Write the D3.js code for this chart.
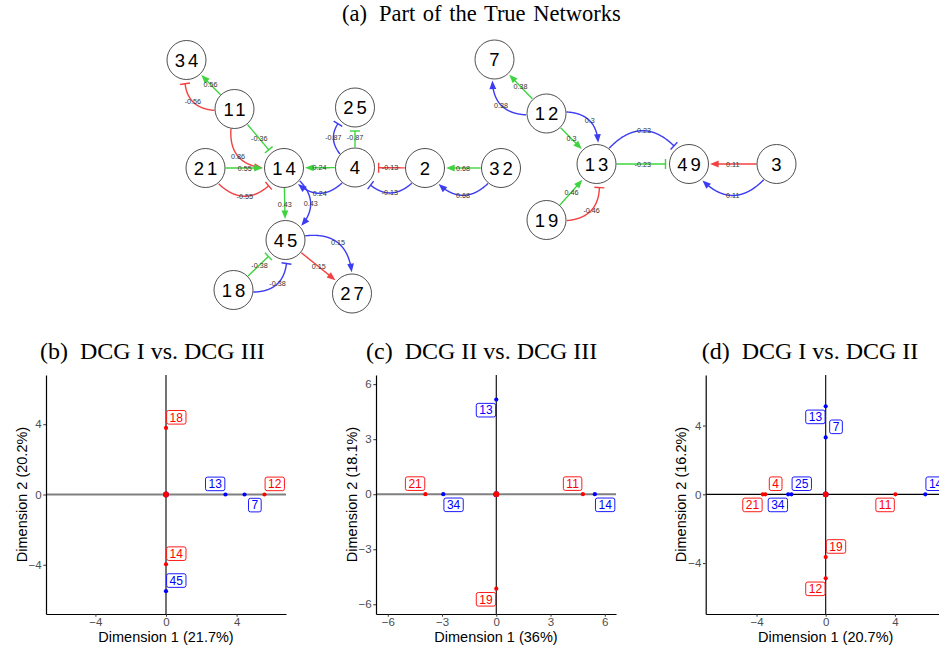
<!DOCTYPE html>
<html>
<head>
<meta charset="utf-8">
<script src="https://cdn.jsdelivr.net/npm/d3@7"></script>
<style>
  body { margin: 0; background: #fff; }
  svg { display: block; }
</style>
</head>
<body>
<svg id="fig" width="939" height="647"></svg>
<script>
// ---------------- (a) regulatory network ----------------
const nodeIds     = ["34", "11", "21", "14", "25", "4", "2", "32", "45", "18", "27", "7", "12", "13", "49", "3", "19"];
const nodeLayoutX = [6.5, 54.5, 25.5, 104, 175, 175, 245, 321, 105.5, 53.5, 172, 314.5, 366.5, 416.5, 509, 596.5, 366.5];
const nodeLayoutY = [2, 51, 110, 110, 49.5, 109.5, 110, 110, 182, 232, 235.5, 1.5, 55.5, 106, 106, 106, 162];

// edges: source, target, weight, network colour key, bend (0 = straight)
const edgeFrom   = ["11", "11", "11", "11", "21", "21", "4", "4", "14", "14", "4", "4", "2", "2", "32", "32", "45", "45", "18", "18", "12", "12", "12", "12", "13", "13", "3", "3", "19", "19"];
const edgeTo     = ["34", "34", "14", "14", "14", "14", "14", "14", "45", "45", "25", "25", "4", "4", "2", "2", "27", "27", "45", "45", "7", "7", "13", "13", "49", "49", "49", "49", "13", "13"];
const edgeWeight = [0.56, -0.56, -0.36, 0.86, 0.55, -0.55, 0.24, 0.24, 0.43, 0.43, -0.87, -0.87, -0.13, -0.13, 0.68, 0.68, 0.15, 0.15, -0.38, -0.38, 0.38, 0.38, 0.3, 0.3, -0.23, -0.23, 0.11, 0.11, 0.46, -0.46];
const edgeNet    = ["g", "r", "g", "r", "g", "r", "g", "b", "g", "b", "g", "b", "r", "b", "g", "b", "r", "b", "g", "b", "g", "b", "g", "b", "g", "b", "r", "b", "g", "r"];
const edgeBend   = [0, 1, 0, -1, 0, -1, 0, 1, 0, 1, 0, 1, 0, 1, 0, 1, 0, 1, 0, -1, 0, 1, 0, 1, 0, 1, 0, 1, 0, -1];

// ---------------- (b)-(d) MDS-style scatter panels ----------------
const bGenes = ["", "", "18", "14", "45", "13", "7", "12"];
const bX     = [0, 0, 0, 0, 0, 3.37, 4.45, 5.58];
const bY     = [0, 0, 3.79, -3.97, -5.5, 0, 0, 0];
const bGroup = [1, 0, 0, 0, 1, 1, 1, 0];
const bSide  = ["", "", "ne", "ne", "ne", "nw", "se", "ne"];

const cGenes = ["", "", "13", "19", "21", "34", "11", "14"];
const cX     = [0, 0, 0, 0, -3.92, -2.93, 4.79, 5.45];
const cY     = [0, 0, 5.16, -5.15, 0, 0, 0, 0];
const cGroup = [1, 0, 1, 0, 0, 1, 0, 1];
const cSide  = ["", "", "sw", "sw", "nw", "se", "nw", "se"];

const dGenes = ["", "", "13", "7", "19", "12", "21", "4", "34", "25", "11", "14"];
const dX     = [0, 0, 0, 0, 0, 0, -3.64, -3.49, -2.17, -1.98, 4.03, 5.76];
const dY     = [0, 0, 5.12, 3.31, -3.65, -4.88, 0, 0, 0, 0, 0, 0];
const dGroup = [1, 0, 1, 1, 0, 0, 0, 0, 1, 1, 0, 1];
const dSide  = ["", "", "sw", "ne", "ne", "sw", "sw", "ne", "sw", "ne", "sw", "ne"];

const panelTags   = ["(b)", "(c)", "(d)"];
const panelNames  = ["DCG I vs. DCG III", "DCG II vs. DCG III", "DCG I vs. DCG II"];
const dim1Labels  = ["Dimension 1 (21.7%)", "Dimension 1 (36%)", "Dimension 1 (20.7%)"];
const dim2Labels  = ["Dimension 2 (20.2%)", "Dimension 2 (18.1%)", "Dimension 2 (16.2%)"];
const panelTicks  = [[-4, 0, 4], [-6, -3, 0, 3, 6], [-4, 0, 4]];
const panelXLim   = [[-6.8, 6.8], [-6.65, 6.62], [-6.94, 6.94]];
const panelYLim   = [[-6.8, 6.8], [-6.53, 6.5], [-6.96, 6.94]];

const svg = d3.select("#fig");
const SERIF = "'Liberation Serif','Times New Roman',serif";
const SANS = "'Liberation Sans',Arial,Helvetica,sans-serif";

// ---------- titles ----------
function title(x, y, tag, rest, size, gap, wordGap) {
  const t = svg.append("text").attr("x", x).attr("y", y)
    .attr("font-family", SERIF).attr("font-size", size).attr("fill", "#000")
    .style("word-spacing", (wordGap || 0) + "px");
  t.append("tspan").text(tag);
  t.append("tspan").attr("dx", gap).text(rest);
}
title(342, 20.5, "(a)", "Part of the True Networks", 22.5, 12, 2);

// ---------- network ----------
const xNet = d3.scaleLinear().domain([0, 600]).range([180, 780]);
const yNet = d3.scaleLinear().domain([0, 240]).range([58, 298]);
const NODE_R = 19.5;
const netColour = { g: "#3ed43e", r: "#f34040", b: "#3c3cf2" };

const pos = {};
nodeIds.forEach((id, i) => { pos[id] = { x: xNet(nodeLayoutX[i]), y: yNet(nodeLayoutY[i]) }; });

const edgeLayer = svg.append("g");
const edgeLabelLayer = svg.append("g");
const line = d3.line();

edgeFrom.forEach((from, i) => {
  const s = pos[from], t = pos[edgeTo[i]];
  const w = edgeWeight[i], col = netColour[edgeNet[i]];
  const dx = t.x - s.x, dy = t.y - s.y, L = Math.hypot(dx, dy);
  const ux = dx / L, uy = dy / L;
  const h = edgeBend[i] * 0.72 * L;
  const cx = (s.x + t.x) / 2 + uy * h, cy = (s.y + t.y) / 2 - ux * h;
  const N = 240;
  const pts = d3.range(N + 1).map(k => {
    const u = k / N, a = (1 - u) * (1 - u), b = 2 * u * (1 - u), c = u * u;
    return [a * s.x + b * cx + c * t.x, a * s.y + b * cy + c * t.y];
  });
  const inhibit = w < 0;
  const endGap = inhibit ? 4 : 1.5;
  let i0 = 0;
  while (i0 < N && Math.hypot(pts[i0][0] - s.x, pts[i0][1] - s.y) < NODE_R + 0.5) i0++;
  let i1 = N;
  while (i1 > 0 && Math.hypot(pts[i1][0] - t.x, pts[i1][1] - t.y) < NODE_R + endGap) i1--;
  const tip = pts[i1], prev = pts[Math.max(i0, i1 - 8)];
  let ex = tip[0] - prev[0], ey = tip[1] - prev[1];
  const el = Math.hypot(ex, ey); ex /= el; ey /= el;
  const px = -ey, py = ex;
  let seg = pts.slice(i0, i1 + 1);
  const AL = 8.5, AW = 3.4;
  if (!inhibit) seg = seg.filter(p => Math.hypot(p[0] - tip[0], p[1] - tip[1]) > AL * 0.6);

  edgeLayer.append("path").attr("d", line(seg))
    .attr("fill", "none").attr("stroke", col).attr("stroke-width", 1.4);
  if (inhibit) {
    edgeLayer.append("line")
      .attr("x1", tip[0] + px * 5).attr("y1", tip[1] + py * 5)
      .attr("x2", tip[0] - px * 5).attr("y2", tip[1] - py * 5)
      .attr("stroke", col).attr("stroke-width", 1.4);
  } else {
    const bx = tip[0] - ex * AL, by = tip[1] - ey * AL;
    edgeLayer.append("path")
      .attr("d", `M${tip[0]},${tip[1]}L${bx + px * AW},${by + py * AW}L${bx - px * AW},${by - py * AW}Z`)
      .attr("fill", col);
  }
  const lx = 0.25 * s.x + 0.5 * cx + 0.25 * t.x, ly = 0.25 * s.y + 0.5 * cy + 0.25 * t.y;
  edgeLabelLayer.append("text").attr("x", lx).attr("y", ly).attr("dy", "0.35em")
    .attr("text-anchor", "middle").attr("font-family", SANS).attr("font-size", 7.2)
    .attr("fill", "#333").text(String(w));
});

const nodeLayer = svg.append("g");
nodeIds.forEach(id => {
  const p = pos[id];
  nodeLayer.append("circle").attr("cx", p.x).attr("cy", p.y).attr("r", NODE_R)
    .attr("fill", "#fff").attr("stroke", "#222").attr("stroke-width", 0.8);
  nodeLayer.append("text").attr("x", p.x + 1.5).attr("y", p.y).attr("dy", "0.36em")
    .attr("text-anchor", "middle").attr("font-family", SANS).attr("font-size", 18.5)
    .attr("letter-spacing", "3px").attr("fill", "#000").text(id);
});

// ---------- scatter panels ----------
const groupColour = ["#f00", "#00f"];
const panelData = [
  { genes: bGenes, x: bX, y: bY, g: bGroup, side: bSide },
  { genes: cGenes, x: cX, y: cY, g: cGroup, side: cSide },
  { genes: dGenes, x: dX, y: dY, g: dGroup, side: dSide }
];
const panelLeft = [46, 376, 705.7];
const titleLeft = [40, 366, 701.7];
const hlineStyle = [{ c: "#808080", w: 2 }, { c: "#808080", w: 2 }, { c: "#000", w: 1.1 }];
const TOP = 375, W = 240, H = 239;

panelData.forEach((pd, k) => {
  const L = panelLeft[k];
  const x = d3.scaleLinear().domain(panelXLim[k]).range([L, L + W]);
  const y = d3.scaleLinear().domain(panelYLim[k]).range([TOP + H, TOP]);

  title(titleLeft[k], 358.5, panelTags[k], panelNames[k], 24, 12, 0);

  const g = svg.append("g");
  // reference lines through the origin
  g.append("line").attr("x1", L).attr("x2", L + W).attr("y1", y(0)).attr("y2", y(0))
    .attr("stroke", hlineStyle[k].c).attr("stroke-width", hlineStyle[k].w);
  g.append("line").attr("x1", x(0)).attr("x2", x(0)).attr("y1", TOP).attr("y2", TOP + H)
    .attr("stroke", "#000").attr("stroke-width", 1.1);

  // axes
  const ax = g.append("g").attr("transform", `translate(0,${TOP + H})`)
    .call(d3.axisBottom(x).tickValues(panelTicks[k]).tickSize(2.7).tickSizeOuter(0).tickPadding(1.5));
  const ay = g.append("g").attr("transform", `translate(${L},0)`)
    .call(d3.axisLeft(y).tickValues(panelTicks[k]).tickSize(2.7).tickSizeOuter(0).tickPadding(1.6));
  [ax, ay].forEach(a => {
    a.select(".domain").attr("stroke", "#000").attr("stroke-width", 1.2);
    a.selectAll(".tick line").attr("stroke", "#333");
    a.selectAll(".tick text").attr("fill", "#4d4d4d").attr("font-family", SANS).attr("font-size", 11.5);
  });

  g.append("text").attr("x", L + W / 2).attr("y", 642).attr("text-anchor", "middle")
    .attr("font-family", SANS).attr("font-size", 14.5).attr("fill", "#000").text(dim1Labels[k]);
  g.append("text").attr("transform", `translate(${L - 24.5},${TOP + H / 2}) rotate(-90)`)
    .attr("dy", "0.35em").attr("text-anchor", "middle")
    .attr("font-family", SANS).attr("font-size", 14.5).attr("fill", "#000").text(dim2Labels[k]);

  // points
  pd.x.forEach((vx, i) => {
    const atOrigin = vx === 0 && pd.y[i] === 0 && pd.genes[i] === "";
    g.append("circle").attr("cx", x(vx)).attr("cy", y(pd.y[i]))
      .attr("r", atOrigin ? 2.9 : 2.1).attr("fill", groupColour[pd.g[i]]);
  });

  // boxed labels
  pd.genes.forEach((name, i) => {
    if (!name) return;
    const col = groupColour[pd.g[i]];
    const sx = pd.side[i].includes("e") ? 1 : -1;
    const sy = pd.side[i].includes("n") ? -1 : 1;
    const cxp = x(pd.x[i]) + sx * 10.3, cyp = y(pd.y[i]) + sy * 10.6;
    const lg = g.append("g");
    const txt = lg.append("text").attr("x", cxp).attr("y", cyp).attr("dy", "0.36em")
      .attr("text-anchor", "middle").attr("font-family", SANS).attr("font-size", 12)
      .attr("fill", col).text(name);
    const tw = txt.node().getComputedTextLength();
    lg.insert("rect", "text").attr("x", cxp - tw / 2 - 3).attr("y", cyp - 6.8)
      .attr("width", tw + 6).attr("height", 13.6).attr("rx", 2)
      .attr("fill", "#fff").attr("stroke", col).attr("stroke-width", 0.9);
  });
});
</script>
</body>
</html>
